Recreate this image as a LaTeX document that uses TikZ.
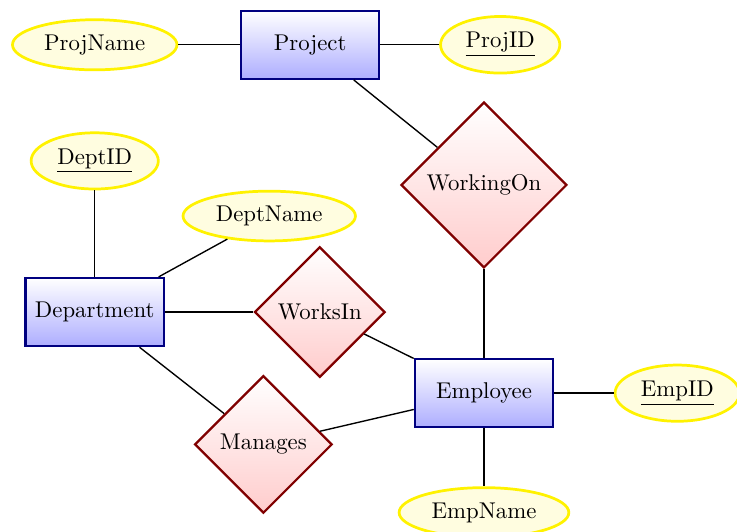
\documentclass[tikz,border=0pt]{standalone}
\usepackage{amsmath}
\usepackage{tikz}
\usetikzlibrary{shapes.geometric}

\begin{document}
\begin{tikzpicture}[
		entidad/.style={rectangle, draw=blue!50!black, line width=1pt, top color=white, bottom color=blue!32, minimum width=2.13cm, minimum height=1.05cm},
		atributo/.style={ellipse, draw=yellow, very thick, fill=yellow!12},
		relacion/.style={diamond, draw=red!50!black, line width=1pt, top color=white, bottom color=red!20, aspect=1}
	]
	% Marco
	\useasboundingbox (0,0) rectangle (11.36,-8.19);
	
	% Entidades
	\node[entidad] (project) at (4.78,-0.69) {Project};
	\node[entidad] (department) at (1.46,-4.81) {Department};
	\node[entidad] (employee) at (7.46,-6.06) {Employee};
	
	% Relaciones
	\node[relacion] (workingon) at (7.46,-2.85) {WorkingOn};
	\node[relacion] (worksin) at (4.93,-4.81) {WorksIn};
	\node[relacion] (manages) at (4.06,-6.85) {Manages};
	
	% Atributos
	\node[atributo] (projname) at (1.46,-0.69) {ProjName};
	\node[atributo] (projid) at (7.71,-0.69) {\underline{ProjID}};
	\node[atributo] (deptid) at (1.46,-2.48) {\underline{DeptID}};
	\node[atributo] (deptname) at (4.15,-3.33) {DeptName};
	\node[atributo] (empid) at (10.44,-6.06) {\underline{EmpID}};
	\node[atributo] (empname) at (7.46,-7.90) {EmpName};
	
	% Conexiones
	\foreach \a/\b in {project/projname, project/projid, project/workingon,
		workingon/employee, department/deptid, department/deptname,
		department/worksin, worksin/employee, department/manages,
		manages/employee, employee/empid, employee/empname} {
		\draw[semithick] (\a) -- (\b);
	}
\end{tikzpicture}
\end{document}
